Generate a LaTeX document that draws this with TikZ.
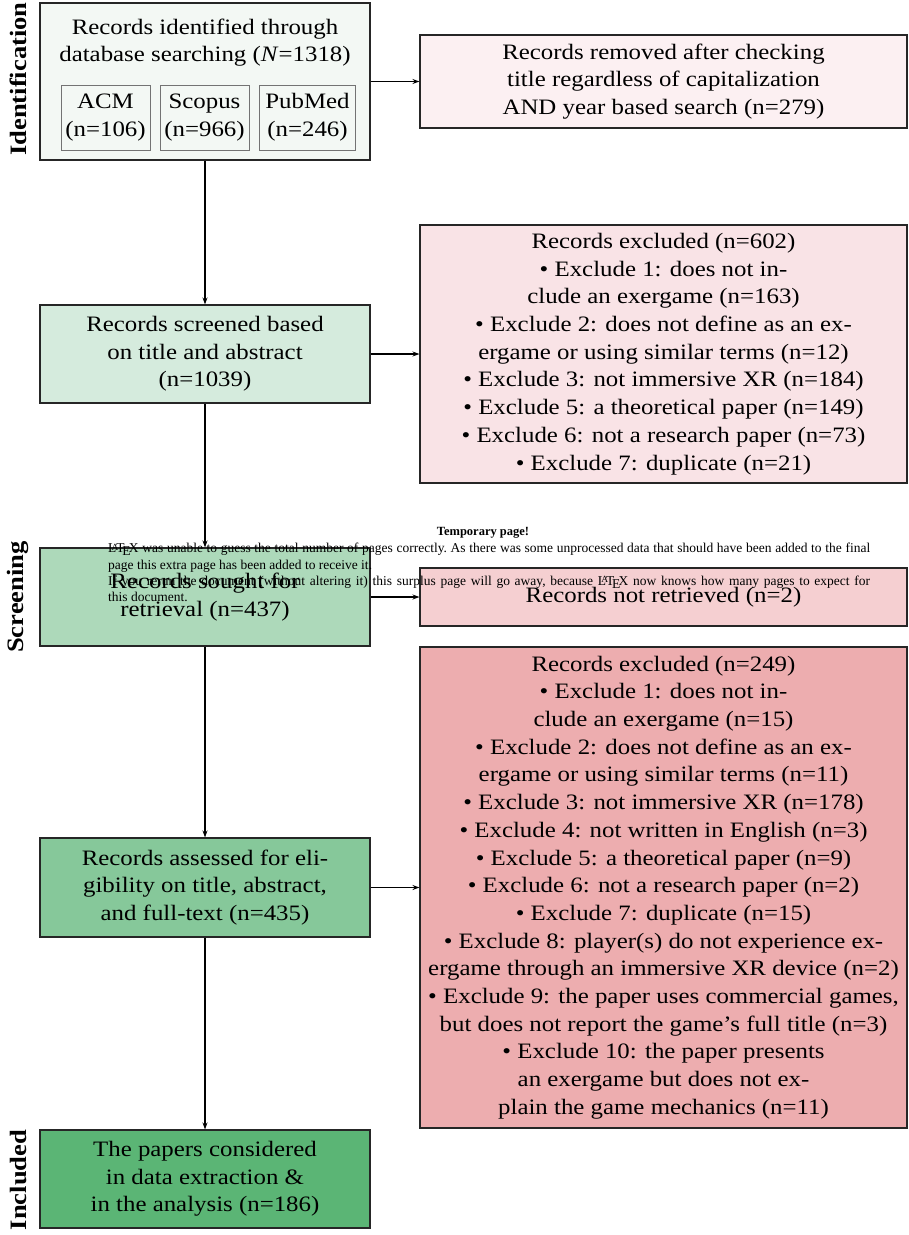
\documentclass[tikz,border=0pt]{standalone}
\usepackage{fontspec}
\setmainfont{Liberation Serif}[FakeStretch=1.13]
\newfontfamily\plainserif{Liberation Serif}
\usetikzlibrary{arrows.meta}
\definecolor{identfill}{HTML}{F3F8F4}
\definecolor{removedfill}{HTML}{FCF0F2}
\definecolor{screenedfill}{HTML}{D5EBDD}
\definecolor{exclafill}{HTML}{F9E3E6}
\definecolor{soughtfill}{HTML}{ADD9BA}
\definecolor{notretfill}{HTML}{F5CFD1}
\definecolor{assessedfill}{HTML}{86C89A}
\definecolor{exclbfill}{HTML}{EDADAF}
\definecolor{includedfill}{HTML}{5BB575}
\newcommand\mainfs{\fontsize{22}{27.7}\selectfont}
\begin{document}
\begin{tikzpicture}[x=1pt,y=-1pt,
  box/.style={draw=black!85, line width=1.1pt, inner sep=0pt},
  subbox/.style={draw=black!55, line width=0.8pt, inner sep=0pt, align=center, font=\mainfs},
  txt/.style={inner sep=0pt, align=center, font=\mainfs},
  side/.style={rotate=90, inner sep=0pt, font=\bfseries\fontsize{23.5}{24}\selectfont},
  arr/.style={-{Stealth[length=7pt,width=5pt]}, line width=1.2pt, black}]
\useasboundingbox (0,0) rectangle (909,1235);
% boxes
\node[box, fill=identfill, minimum width=330pt, minimum height=157pt] (ident) at (205,81.5) {};
\node[txt] (identt) at (205,42.5) {Records identified through\\database searching (\textit{N}=1318)};
\node[subbox, minimum width=89pt, minimum height=65pt] (acm) at (105.5,117.5) {ACM\\(n=106)};
\node[subbox, minimum width=89pt, minimum height=65pt] (scopus) at (204.5,117.5) {Scopus\\(n=966)};
\node[subbox, minimum width=96pt, minimum height=65pt] (pubmed) at (307.5,117.5) {PubMed\\(n=246)};
\node[box, fill=removedfill, minimum width=487pt, minimum height=93pt, txt] (removed) at (663.5,81.5)
  {Records removed after checking\\title regardless of capitalization\\AND year based search (n=279)};
\node[box, fill=screenedfill, minimum width=330pt, minimum height=98pt, txt] (screened) at (205,354)
  {Records screened based\\on title and abstract\\(n=1039)};
\node[box, fill=exclafill, minimum width=487pt, minimum height=258pt, txt] (excla) at (663.5,354)
  {Records excluded (n=602)\\
   • Exclude 1: does not in-\\
   clude an exergame (n=163)\\
   • Exclude 2: does not define as an ex-\\
   ergame or using similar terms (n=12)\\
   • Exclude 3: not immersive XR (n=184)\\
   • Exclude 5: a theoretical paper (n=149)\\
   • Exclude 6: not a research paper (n=73)\\
   • Exclude 7: duplicate (n=21)};
\node[box, fill=soughtfill, minimum width=330pt, minimum height=98pt, txt] (sought) at (205,597)
  {Records sought for\\retrieval (n=437)};
\node[box, fill=notretfill, minimum width=487pt, minimum height=58pt, txt] (notret) at (663.5,597)
  {Records not retrieved (n=2)};
\node[box, fill=exclbfill, minimum width=487pt, minimum height=481pt, txt] (exclb) at (663.5,887.5)
  {Records excluded (n=249)\\
   • Exclude 1: does not in-\\
   clude an exergame (n=15)\\
   • Exclude 2: does not define as an ex-\\
   ergame or using similar terms (n=11)\\
   • Exclude 3: not immersive XR (n=178)\\
   • Exclude 4: not written in English (n=3)\\
   • Exclude 5: a theoretical paper (n=9)\\
   • Exclude 6: not a research paper (n=2)\\
   • Exclude 7: duplicate (n=15)\\
   • Exclude 8: player(s) do not experience ex-\\
   ergame through an immersive XR device (n=2)\\
   • Exclude 9: the paper uses commercial games,\\
   but does not report the game’s full title (n=3)\\
   • Exclude 10: the paper presents\\
   an exergame but does not ex-\\
   plain the game mechanics (n=11)};
\node[box, fill=assessedfill, minimum width=330pt, minimum height=99pt, txt] (assessed) at (205,887.5)
  {Records assessed for eli-\\gibility on title, abstract,\\and full-text (n=435)};
\node[box, fill=includedfill, minimum width=330pt, minimum height=98pt, txt] (included) at (205,1179)
  {The papers considered\\in data extraction \&\\in the analysis (n=186)};
% side labels
\node[side] (lid) at (18,79) {Identification};
\node[side] (lsc) at (18,597) {Screening};
\node[side] (lin) at (18,1180) {Included};
% connectors
\draw[arr] (ident.east) -- (removed.west);
\draw[arr] (screened.east) -- (excla.west);
\draw[arr] (sought.east) -- (notret.west);
\draw[arr] (assessed.east) -- (exclb.west);
\draw[arr] (ident.south) -- (screened.north);
\draw[arr] (screened.south) -- (sought.north);
\draw[arr] (sought.south) -- (assessed.north);
\draw[arr] (assessed.south) -- (included.north);
% temporary page overlay
\node[inner sep=0pt, font=\plainserif\bfseries\fontsize{12.5}{14}\selectfont] (tmpt) at (483,533) {Temporary page!};
\node[anchor=north west, inner sep=0pt, text width=762pt, align=justify, font=\plainserif\fontsize{13.5}{16.4}\selectfont] (tmpb) at (108,543)
  {\parindent=0pt\frenchspacing \LaTeX{} was unable to guess the total number of pages correctly. As there was some unprocessed data that should have been added to the final\linebreak page this extra page has been added to receive it.\par
  If you rerun the document (without altering it) this surplus page will go away, because \LaTeX{} now knows how many pages to expect for\linebreak this document.};
\end{tikzpicture}
\end{document}
